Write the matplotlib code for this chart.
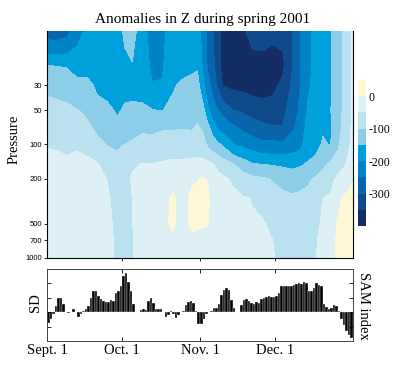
import numpy as np
import matplotlib
matplotlib.use("Agg")
import matplotlib.pyplot as plt
from matplotlib.ticker import NullLocator

# ---------------- data ----------------
pressure = [10, 20, 30, 50, 70, 100, 150, 200, 300, 500, 700, 1000]
days = [0, 4, 8, 12, 16, 20, 24, 28, 31, 34, 38, 42, 46, 50, 54, 58, 60, 62, 64, 66,
        68, 70, 74, 78, 82, 86, 90, 94, 98, 101, 104, 107, 110, 113, 116, 118, 120, 122]
# Z anomaly (m): one column per day node, values top (10 hPa) to bottom (1000 hPa)
z_columns = [
    [-275, -150, -112, -80, -65, -52, -40, -35, -30, -25, -25, -25],
    [-275, -152, -115, -85, -68, -53, -42, -35, -28, -26, -26, -26],
    [-265, -155, -115, -92, -72, -55, -45, -38, -32, -28, -28, -28],
    [-220, -165, -140, -98, -80, -53, -43, -37, -32, -28, -28, -28],
    [-190, -170, -135, -108, -92, -62, -40, -37, -33, -30, -30, -30],
    [-185, -175, -160, -130, -110, -88, -45, -40, -35, -32, -30, -30],
    [-180, -172, -165, -140, -125, -102, -70, -51, -45, -40, -38, -36],
    [-175, -170, -165, -155, -140, -108, -78, -70, -62, -60, -58, -58],
    [-140, -165, -160, -145, -125, -100, -75, -65, -62, -60, -58, -58],
    [-130, -153, -160, -143, -125, -90, -55, -46, -50, -51, -52, -52],
    [-180, -175, -165, -142, -108, -85, -48, -40, -36, -34, -34, -34],
    [-225, -210, -198, -148, -108, -88, -48, -38, -30, -28, -28, -30],
    [-210, -205, -197, -152, -103, -88, -42, -28, -18, -15, -20, -25],
    [-180, -170, -158, -132, -103, -85, -35, -15, 8, 8, -10, -20],
    [-185, -170, -140, -122, -102, -85, -35, -25, -15, -15, -20, -22],
    [-190, -160, -135, -115, -103, -85, -30, -5, 12, 8, -10, -20],
    [-185, -155, -134, -110, -97, -75, -33, -2, 12, 5, -10, -20],
    [-210, -205, -182, -128, -105, -82, -34, 3, 18, 2, -10, -20],
    [-262, -255, -230, -186, -135, -106, -36, -2, 10, 2, -12, -22],
    [-295, -285, -265, -228, -174, -124, -47, -20, -15, -18, -25, -30],
    [-330, -330, -305, -248, -210, -138, -57, -40, -30, -28, -28, -30],
    [-365, -365, -352, -264, -222, -156, -72, -43, -35, -32, -32, -33],
    [-375, -385, -360, -298, -242, -197, -96, -55, -40, -35, -35, -36],
    [-358, -380, -362, -308, -262, -210, -122, -77, -45, -38, -36, -37],
    [-330, -375, -370, -318, -280, -222, -145, -88, -52, -45, -42, -42],
    [-328, -372, -372, -325, -290, -237, -150, -95, -65, -45, -40, -40],
    [-338, -375, -362, -328, -297, -235, -153, -103, -84, -63, -50, -48],
    [-340, -360, -339, -314, -298, -238, -157, -117, -85, -68, -62, -58],
    [-298, -300, -290, -272, -258, -225, -162, -123, -92, -72, -65, -60],
    [-248, -250, -250, -242, -230, -213, -155, -120, -85, -70, -65, -62],
    [-210, -210, -206, -195, -182, -172, -145, -110, -80, -65, -60, -58],
    [-190, -190, -188, -182, -175, -165, -135, -95, -72, -58, -53, -52],
    [-165, -165, -163, -160, -155, -145, -110, -82, -50, -45, -42, -40],
    [-155, -155, -155, -152, -155, -152, -90, -65, -43, -25, -20, -18],
    [-125, -125, -125, -122, -120, -110, -70, -40, -8, 5, 8, 8],
    [-100, -100, -98, -95, -90, -80, -58, -30, 3, 10, 12, 12],
    [-70, -70, -70, -68, -65, -58, -42, -15, 10, 15, 15, 15],
    [-40, -40, -40, -40, -40, -38, -25, -2, 12, 18, 18, 18],
]
levels = [-400, -350, -300, -250, -200, -150, -100, -50, 0, 50]
cbar_ticks = [0, -100, -200, -300]
cbar_labels = ["0", "-100", "-200", "-300"]
p_ticks = [30, 50, 100, 200, 500, 700, 1000]

# daily SAM index (SD), Sept 1 .. Dec 31
sam_index = [
    -0.75, -0.5, -0.1, 0.45, 1.0, 1.0, 0.6, 0.02, -0.05, 0.02,
    0.22, 0.02, -0.3, -0.15, 0.1, 0.2, 0.4, 1.0, 1.45, 1.5,
    1.1, 0.95, 0.8, 0.7, 0.7, 0.85, 0.8, 1.3, 1.5, 1.8,
    2.5, 2.7, 2.1, 1.45, 0.55, 0.02, 0.02, 0.15, 0.2, 0.15,
    0.8, 1.0, 0.62, 0.22, 0.25, 0.2, 0.02, -0.3, -0.19, 0.09,
    -0.14, -0.37, -0.23, 0.02, 0.1, 0.5, 0.72, 0.78, 0.65, 0.05,
    -0.8, -0.85, -0.5, -0.15, 0.02, 0.1, 0.32, 0.32, 0.6, 1.2,
    1.55, 1.7, 1.55, 0.85, 0.3, 0.02, 0.02, 0.5, 0.86, 0.93,
    0.79, 0.63, 0.55, 0.7, 0.65, 0.9, 1.0, 1.05, 1.1, 1.05,
    1.05, 1.1, 1.3, 1.85, 1.85, 1.85, 1.85, 1.85, 1.9, 1.95,
    2.05, 1.95, 2.1, 2.05, 1.5, 1.45, 1.7, 2.0, 1.9, 1.8,
    0.55, 0.35, 0.2, 0.3, 0.5, 0.45, 0.1, -0.5, -0.88, -1.34,
    -1.57, -1.76,
]
month_ticks = [0, 30, 61, 91]
month_labels = ["Sept. 1", "Oct. 1", "Nov. 1", "Dec. 1"]

# ---------------- style ----------------
colors = ["#142d64", "#0f4a8a", "#0a64ac", "#0082c8", "#00a0dc",
          "#8ccde8", "#b9e1f0", "#dcf0f6", "#fff8d8"]
serif = "Liberation Serif"
sans = "Liberation Sans"

fig = plt.figure(figsize=(4.0, 3.79), dpi=100)

# ---- top: contour ----
ax = fig.add_axes([0.1175, 0.3193, 0.765, 0.599])
Z = np.array(z_columns, dtype=float).T
cf = ax.contourf(days, pressure, Z, levels=levels, colors=colors)
ax.set_yscale("log")
ax.set_ylim(1000, 10)
ax.set_xlim(0, 122)
ax.yaxis.set_minor_locator(NullLocator())
ax.set_yticks(p_ticks)
ax.set_yticklabels([str(p) for p in p_ticks], fontsize=5.5, family=sans)
ax.set_xticks(month_ticks[1:])
ax.set_xticklabels([])
ax.tick_params(axis="both", direction="out", length=2.5, width=0.6, pad=1)
ax.spines["top"].set_visible(False)
for s in ["left", "bottom", "right"]:
    ax.spines[s].set_linewidth(0.8)

fig.text(0.506, 1 - 19 / 379, "Anomalies in Z during spring 2001", ha="center",
         va="center", fontsize=11, family=serif)
fig.text(14 / 400, 1 - 139 / 379, "Pressure", rotation=90, ha="center",
         va="center", fontsize=10.5, family=serif)

# ---- colorbar ----
cax = fig.add_axes([0.895, 0.4037, 0.02, 0.3852])
cb = fig.colorbar(cf, cax=cax, ticks=cbar_ticks)
cb.outline.set_visible(False)
cb.ax.set_yticklabels(cbar_labels, fontsize=8.5, family=serif)
cb.ax.tick_params(length=0, pad=1.5)

# ---- bottom: SAM index bars ----
ax2 = fig.add_axes([0.1175, 0.1003, 0.765, 0.19])
x = np.arange(len(sam_index)) + 0.5
ax2.bar(x, sam_index, width=1.0, color="black", edgecolor="white", linewidth=0.25)
ax2.set_xlim(0, 122)
ax2.set_ylim(-2, 3)
ax2.set_yticks([-1, 0, 1, 2])
ax2.set_yticklabels([])
ax2.set_xticks(month_ticks)
ax2.set_xticklabels(month_labels, fontsize=10.5, family=serif)
ax2.tick_params(axis="both", direction="in", length=3, width=0.6,
                top=True, right=True, pad=2)
for s in ax2.spines.values():
    s.set_linewidth(0.7)
    s.set_color("#444444")
fig.text(36 / 400, 1 - 303 / 379, "SD", rotation=90, ha="center", va="center",
         fontsize=10.5, family=serif)
fig.text(363 / 400, 1 - 306 / 379, "SAM index", rotation=-90, ha="center",
         va="center", fontsize=10.5, family=serif)

fig.savefig("out.png", dpi=100)
